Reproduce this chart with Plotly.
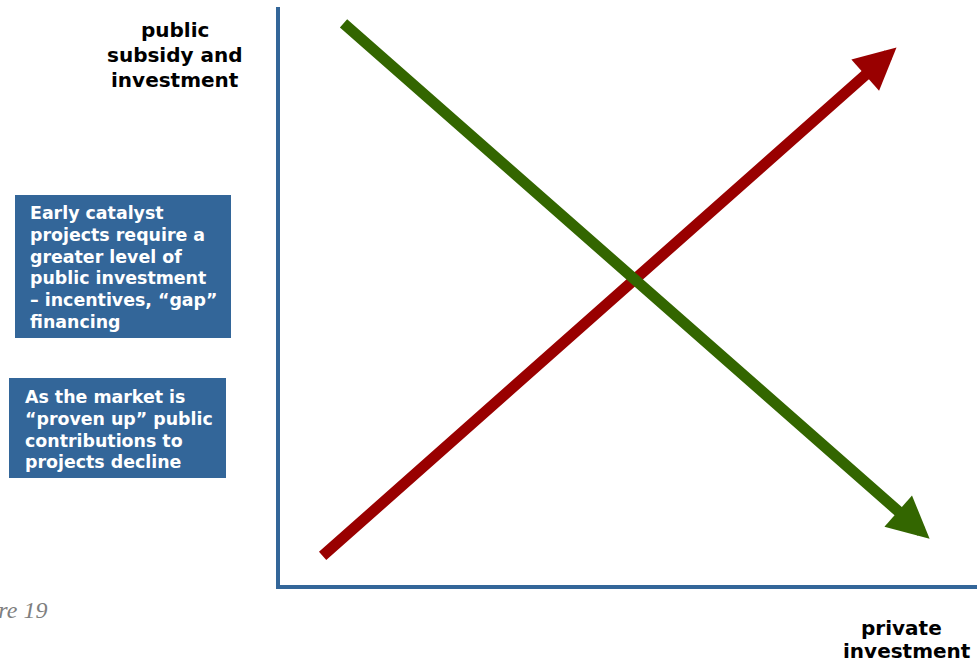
import plotly.graph_objects as go

W, H = 977, 662

# ---- data (conceptual units, 0-100 on both axes) ----
series_names = ["private investment", "public subsidy"]
series_colors = ["#990000", "#336600"]
# [start, end] positions along private investment axis
private_x = [[5.9, 88.45], [8.9, 93.2]]
# [start, end] levels of public subsidy / investment
public_y = [[4.8, 93.0], [97.4, 8.0]]

y_title_lines = ["public", "subsidy and", "investment"]
x_title_lines = ["private", "investment"]
box1_lines = ["Early catalyst", "projects require a", "greater level of",
              "public investment", "\u2013 incentives, \u201cgap\u201d", "financing"]
box2_lines = ["As the market is", "\u201cproven up\u201d public",
              "contributions to", "projects decline"]
caption = "Figure 19"

BLUE = "#336699"
FONT = "DejaVu Sans"

def px(x):
    return x / W

def py(y):
    return 1 - y / H

fig = go.Figure()
# invisible trace to establish axes
fig.add_trace(go.Scatter(x=[0, 100], y=[0, 100], mode="markers",
                         marker=dict(opacity=0), hoverinfo="skip", showlegend=False))

annotations = []
# arrows (red first, green on top)
for name, col, xs, ys in zip(series_names, series_colors, private_x, public_y):
    annotations.append(dict(
        x=xs[1], y=ys[1], ax=xs[0], ay=ys[0],
        xref="x", yref="y", axref="x", ayref="y",
        showarrow=True, arrowhead=2, arrowsize=0.76, arrowwidth=11,
        arrowcolor=col, text="", standoff=0, startstandoff=0,
    ))

def add_lines(lines, x, baselines, fs, color, anchor):
    for ln, b in zip(lines, baselines):
        annotations.append(dict(
            text="<b>%s</b>" % ln, x=px(x), y=py(b - 0.346 * fs),
            xref="paper", yref="paper", xanchor=anchor, yanchor="middle",
            showarrow=False, font=dict(family=FONT, size=fs, color=color),
        ))

# y-axis title
add_lines(y_title_lines, 174.5, [37, 62, 87], 20, "black", "center")
# x-axis title
annotations.append(dict(text="<b>%s</b>" % x_title_lines[0], x=px(901), y=py(635 - 0.346 * 20),
                        xref="paper", yref="paper", xanchor="center", yanchor="middle",
                        showarrow=False, font=dict(family=FONT, size=20, color="black")))
annotations.append(dict(text="<b>%s</b>" % x_title_lines[1], x=px(907), y=py(658 - 0.346 * 20),
                        xref="paper", yref="paper", xanchor="center", yanchor="middle",
                        showarrow=False, font=dict(family=FONT, size=20, color="black")))

# text boxes
b1 = [219.3 + 21.7 * i for i in range(len(box1_lines))]
add_lines(box1_lines, 28, b1, 17.4, "white", "left")
b2 = [403.3 + 21.7 * i for i in range(len(box2_lines))]
add_lines(box2_lines, 23, b2, 17.4, "white", "left")

# caption (partially cut off at left edge, as in the source)
annotations.append(dict(text="<i>%s</i>" % caption, x=px(49), y=py(617 - 0.3 * 24),
                        xref="paper", yref="paper", xanchor="right", yanchor="middle",
                        showarrow=False,
                        font=dict(family="Liberation Serif", size=24, color="#7f7f7f")))

shapes = [
    dict(type="rect", xref="paper", yref="paper", x0=px(15), x1=px(231),
         y0=py(338), y1=py(195), fillcolor=BLUE, line=dict(width=0), layer="below"),
    dict(type="rect", xref="paper", yref="paper", x0=px(9), x1=px(226),
         y0=py(478), y1=py(378), fillcolor=BLUE, line=dict(width=0), layer="below"),
]

fig.update_layout(
    width=W, height=H,
    margin=dict(l=0, r=0, t=0, b=0),
    paper_bgcolor="white", plot_bgcolor="white",
    showlegend=False,
    xaxis=dict(domain=[280 / W, 1], range=[0, 100], showline=True, linewidth=4,
               linecolor=BLUE, showgrid=False, zeroline=False, showticklabels=False,
               ticks="", fixedrange=True),
    yaxis=dict(domain=[77 / H, 655 / H], range=[0, 100], showline=True, linewidth=4,
               linecolor=BLUE, showgrid=False, zeroline=False, showticklabels=False,
               ticks="", fixedrange=True),
    annotations=annotations,
    shapes=shapes,
)

fig.write_html("out.html", config={"displayModeBar": False})
